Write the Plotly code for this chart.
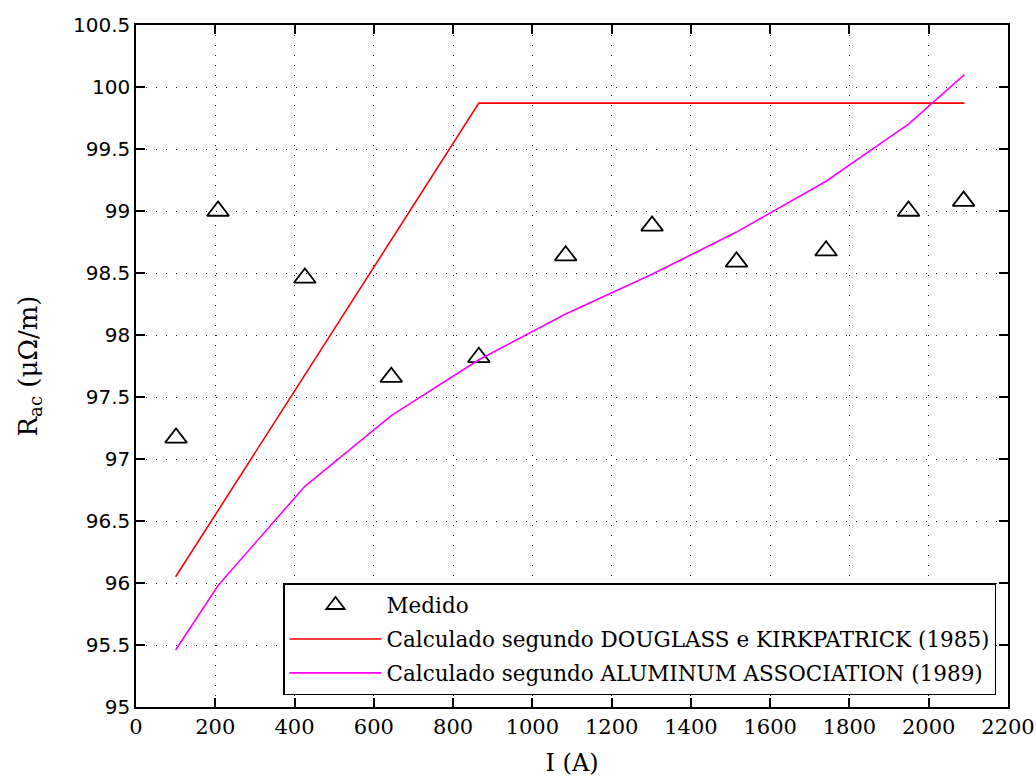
import plotly.graph_objects as go

# Measured AC resistance versus current
corrente_medida = [101, 207, 426, 644, 865, 1084, 1302, 1515, 1741, 1949, 2088]
rac_medida = [97.17, 99.00, 98.46, 97.66, 97.82, 98.64, 98.88, 98.59, 98.68, 99.00, 99.08]

# Calculated according to Douglass & Kirkpatrick (1985)
corrente_dk = [100, 865, 2090]
rac_dk = [96.05, 99.87, 99.87]

# Calculated according to Aluminum Association (1989)
corrente_aa = [100, 207, 426, 644, 865, 1084, 1302, 1515, 1741, 1949, 2090]
rac_aa = [95.46, 95.98, 96.78, 97.35, 97.80, 98.17, 98.49, 98.83, 99.24, 99.70, 100.10]

x_ticks = list(range(0, 2201, 200))
y_ticks = [95 + 0.5 * i for i in range(12)]

serif = "DejaVu Serif"
sans = "DejaVu Sans"

fig = go.Figure()
fig.add_trace(go.Scatter(
    x=corrente_medida, y=rac_medida, mode="markers", name="Medido",
    legendgroup="g1",
    marker=dict(symbol="triangle-up-open", size=19, color="black",
                line=dict(color="black", width=1.8)),
))
fig.add_trace(go.Scatter(
    x=corrente_dk, y=rac_dk, mode="lines",
    name="Calculado segundo DOUGLASS e KIRKPATRICK (1985)",
    legendgroup="g2",
    line=dict(color="#ff0000", width=1.6),
))
fig.add_trace(go.Scatter(
    x=corrente_aa, y=rac_aa, mode="lines",
    name="Calculado segundo ALUMINUM ASSOCIATION (1989)",
    legendgroup="g3",
    line=dict(color="#ff00ff", width=1.6),
))

axis_common = dict(
    showline=True, linecolor="black", linewidth=1.5, mirror="ticks",
    ticks="inside", ticklen=9, tickwidth=1.5, tickcolor="black",
    showgrid=True, gridcolor="#222222", gridwidth=1.2, griddash="1px,9px",
    zeroline=False, automargin=False,
)

fig.update_xaxes(
    range=[0, 2200], tickvals=x_ticks, ticktext=[str(v) for v in x_ticks],
    tickfont=dict(family=serif, size=21, color="black"),
    title=dict(text="I (A)", font=dict(family=serif, size=24, color="black"), standoff=16),
    **axis_common,
)
fig.update_yaxes(
    range=[95, 100.5], tickvals=y_ticks,
    ticktext=[f"{v:g}" for v in y_ticks],
    tickfont=dict(family=sans, size=20, color="black"),
    title=dict(text="R<sub>ac</sub> (μΩ/m)", font=dict(family=serif, size=26, color="black"), standoff=28),
    **axis_common,
)

fig.update_layout(
    width=1036, height=783,
    margin=dict(l=136, r=28, t=25, b=76),
    paper_bgcolor="white", plot_bgcolor="white",
    showlegend=True,
    legend=dict(
        x=0.1686, y=0.1818, xanchor="left", yanchor="top",
        bgcolor="white", bordercolor="black", borderwidth=1.5,
        font=dict(family=serif, size=21.5, color="black"),
        tracegroupgap=3, itemwidth=92,
    ),
)

fig.write_html("out.html")
